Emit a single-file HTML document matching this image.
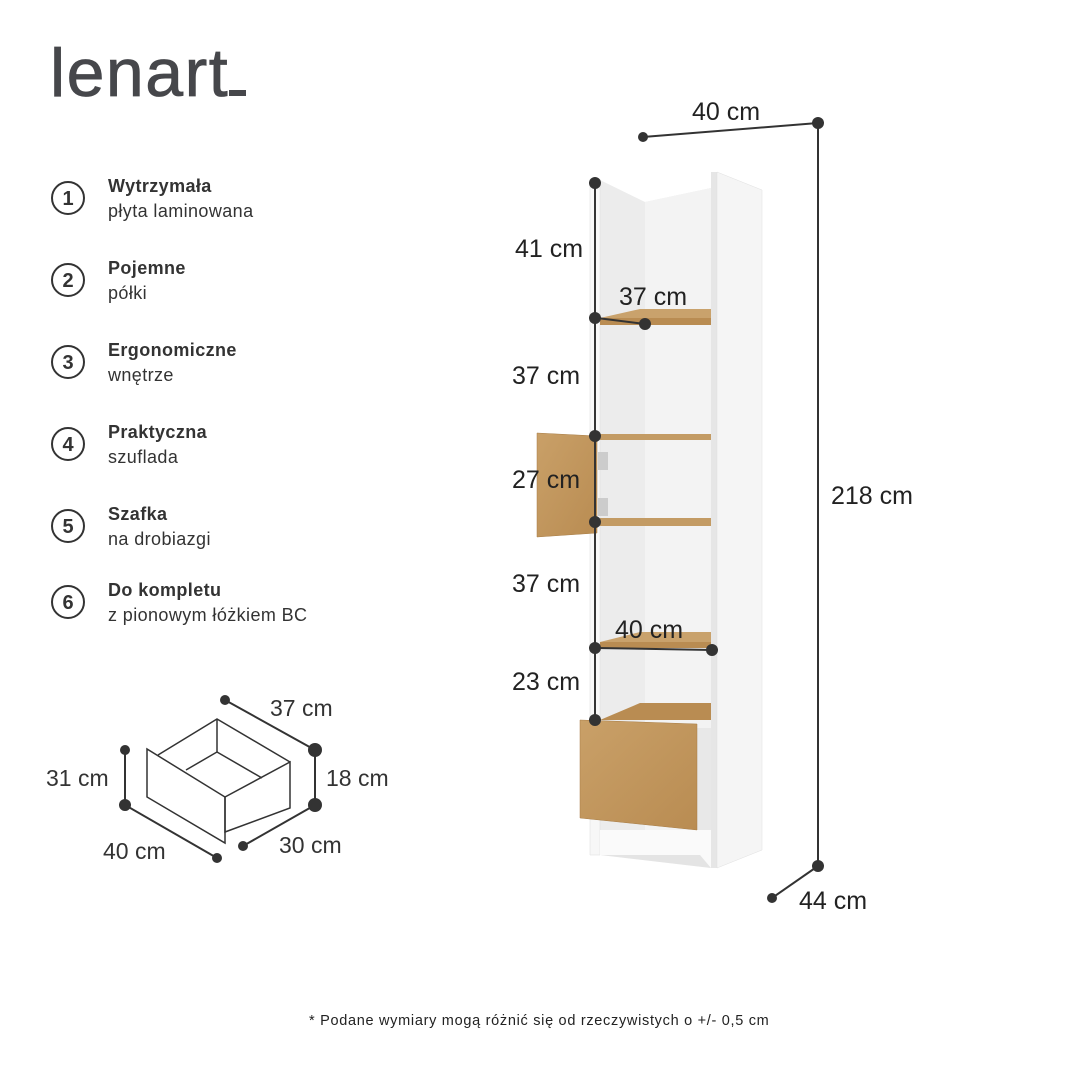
<!DOCTYPE html>
<html><head><meta charset="utf-8"><style>
html,body{margin:0;padding:0;background:#fff}
body{width:1080px;height:1080px;position:relative;overflow:hidden;font-family:"Liberation Sans",sans-serif;color:#2f2f33}
svg{position:absolute;left:0;top:0}
</style></head><body>
<svg width="1080" height="1080" viewBox="0 0 1080 1080" xmlns="http://www.w3.org/2000/svg" font-family="Liberation Sans, sans-serif">
<defs>
<linearGradient id="oak" x1="0" y1="0" x2="1" y2="1"><stop offset="0" stop-color="#c9a068"/><stop offset="1" stop-color="#b98c52"/></linearGradient>
</defs>
<!-- logo -->
<text x="50" y="96" font-size="68" fill="#46474b" letter-spacing="1.5" stroke="#46474b" stroke-width="0.8">lenart</text>
<rect x="229" y="90" width="17" height="6" fill="#46474b"/>
<!-- features -->
<g fill="none" stroke="#333" stroke-width="2">
<circle cx="68" cy="198" r="16"/><circle cx="68" cy="280" r="16"/><circle cx="68" cy="362" r="16"/>
<circle cx="68" cy="444" r="16"/><circle cx="68" cy="526" r="16"/><circle cx="68" cy="602" r="16"/>
</g>
<g font-size="20" font-weight="bold" text-anchor="middle" fill="#333">
<text x="68" y="205">1</text><text x="68" y="287">2</text><text x="68" y="369">3</text>
<text x="68" y="451">4</text><text x="68" y="533">5</text><text x="68" y="609">6</text>
</g>
<g font-size="18" fill="#333" letter-spacing="0.4">
<text x="108" y="192" font-weight="bold">Wytrzymała</text><text x="108" y="217">płyta laminowana</text>
<text x="108" y="274" font-weight="bold">Pojemne</text><text x="108" y="299">półki</text>
<text x="108" y="356" font-weight="bold">Ergonomiczne</text><text x="108" y="381">wnętrze</text>
<text x="108" y="438" font-weight="bold">Praktyczna</text><text x="108" y="463">szuflada</text>
<text x="108" y="520" font-weight="bold">Szafka</text><text x="108" y="545">na drobiazgi</text>
<text x="108" y="596" font-weight="bold">Do kompletu</text><text x="108" y="621">z pionowym łóżkiem BC</text>
</g>
<!-- drawer sketch -->
<g fill="none" stroke="#333" stroke-width="1.5">
<polygon points="147,749 147,797 225,843 225,797"/>
<polygon points="225,797 290,762 290,808 225,832"/>
<polyline points="158,755 217,719 290,762"/>
<polyline points="217,719 217,752 186,770"/>
<line x1="217" y1="752" x2="262" y2="778"/>
</g>
<g stroke="#333" stroke-width="2">
<line x1="225" y1="700" x2="315" y2="750"/><line x1="315" y1="750" x2="315" y2="805"/>
<line x1="315" y1="805" x2="243" y2="846"/><line x1="125" y1="750" x2="125" y2="805"/>
<line x1="125" y1="805" x2="217" y2="858"/>
</g>
<g fill="#333">
<circle cx="225" cy="700" r="5"/><circle cx="315" cy="750" r="7"/><circle cx="315" cy="805" r="7"/>
<circle cx="125" cy="750" r="5"/><circle cx="125" cy="805" r="6"/><circle cx="217" cy="858" r="5"/><circle cx="243" cy="846" r="5"/>
</g>
<g font-size="23" fill="#333">
<text x="270" y="716">37 cm</text><text x="326" y="786">18 cm</text><text x="46" y="786">31 cm</text>
<text x="103" y="859">40 cm</text><text x="279" y="853">30 cm</text>
</g>
<!-- cabinet -->
<polygon points="600,180 645,202 711,188 711,855 600,855" fill="#ececec"/>
<polygon points="645,202 711,188 711,855 645,855" fill="#f3f3f3"/>
<polygon points="590,180 600,180 600,855 590,855" fill="#f7f7f7" stroke="#ddd" stroke-width="0.5"/>
<polygon points="711,172 717,172 717,868 711,868" fill="#e6e6e6"/>
<polygon points="717,172 762,190 762,850 717,868" fill="#f5f5f5" stroke="#e0e0e0" stroke-width="0.5"/>
<polygon points="600,830 711,830 711,868 600,855" fill="#fafafa"/>
<polygon points="612,855 700,855 711,868 600,855" fill="#e4e4e4"/>
<!-- shelves -->
<polygon points="600,318 640,309 711,309 711,318" fill="#c9a26c"/><rect x="600" y="318" width="111" height="7" fill="#b98c52"/>
<rect x="600" y="434" width="111" height="6" fill="#c39b64"/>
<rect x="600" y="518" width="111" height="8" fill="#c39b64"/>
<polygon points="600,642 640,632 711,632 711,642" fill="#c9a26c"/><rect x="600" y="642" width="111" height="6" fill="#b98c52"/>
<polygon points="600,720 640,703 711,703 711,720" fill="#b98c52"/>
<!-- drawer -->
<rect x="697" y="728" width="14" height="102" fill="#e8e8e8"/>
<polygon points="580,720 697,724 697,830 580,818" fill="url(#oak)" stroke="#a87d46" stroke-width="0.5"/>
<!-- door -->
<polygon points="537,433 597,436 597,533 537,537" fill="url(#oak)" stroke="#a87d46" stroke-width="0.5"/>
<rect x="598" y="452" width="10" height="18" fill="#ccc"/><rect x="598" y="498" width="10" height="18" fill="#ccc"/>
<!-- dims -->
<g stroke="#333" stroke-width="2">
<line x1="595" y1="183" x2="595" y2="720"/>
<line x1="597" y1="318" x2="645" y2="324"/>
<line x1="597" y1="648" x2="712" y2="650"/>
<line x1="643" y1="137" x2="818" y2="123"/>
<line x1="818" y1="123" x2="818" y2="866"/>
<line x1="818" y1="866" x2="772" y2="898"/>
</g>
<g fill="#333">
<circle cx="595" cy="183" r="6"/><circle cx="595" cy="318" r="6"/><circle cx="645" cy="324" r="6"/>
<circle cx="595" cy="436" r="6"/><circle cx="595" cy="522" r="6"/><circle cx="595" cy="648" r="6"/>
<circle cx="712" cy="650" r="6"/><circle cx="595" cy="720" r="6"/>
<circle cx="643" cy="137" r="5"/><circle cx="818" cy="123" r="6"/><circle cx="818" cy="866" r="6"/><circle cx="772" cy="898" r="5"/>
</g>
<g font-size="25" fill="#222">
<text x="692" y="120">40 cm</text><text x="515" y="257">41 cm</text><text x="619" y="305">37 cm</text>
<text x="512" y="384">37 cm</text><text x="512" y="488">27 cm</text><text x="512" y="592">37 cm</text>
<text x="615" y="638">40 cm</text><text x="512" y="690">23 cm</text>
<text x="831" y="504">218 cm</text><text x="799" y="909">44 cm</text>
</g>
<text x="309" y="1025" font-size="14.5" fill="#222" letter-spacing="0.7">* Podane wymiary mogą różnić się od rzeczywistych o +/- 0,5 cm</text>
</svg>
</body></html>
